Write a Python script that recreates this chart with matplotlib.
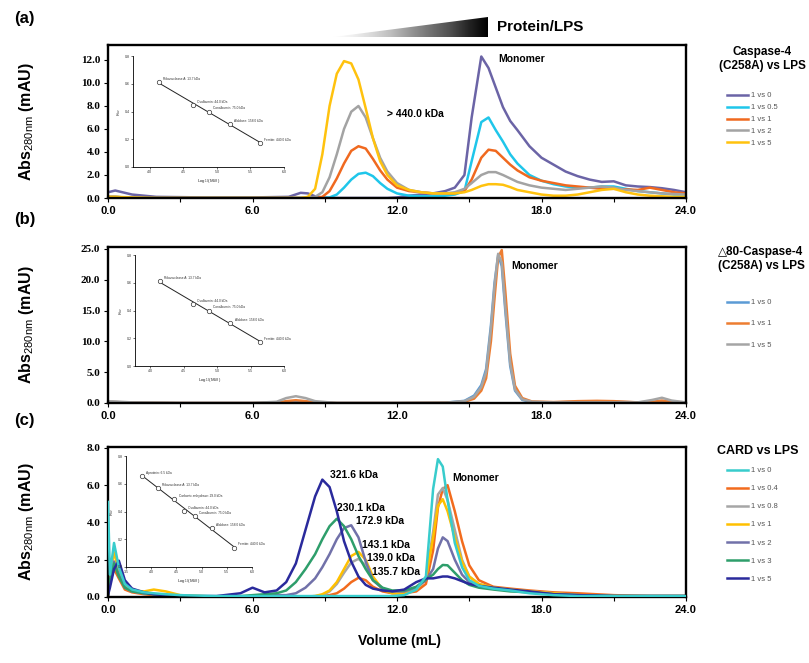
import numpy as np
import matplotlib
matplotlib.use("Agg")
import matplotlib.pyplot as plt
from matplotlib.patches import Polygon

plt.rcParams["font.family"] = ["Liberation Sans", "DejaVu Sans"]
plt.rcParams["mathtext.fontset"] = "custom"
plt.rcParams["mathtext.rm"] = "Liberation Sans"
plt.rcParams["mathtext.default"] = "rm"

# ---- panel (a): Caspase-4 (C258A) vs LPS ----
vol_a = [0, 0.3, 1, 2, 4, 6, 7.5,
         8.0, 8.3, 8.6, 8.9, 9.2, 9.5, 9.8, 10.1, 10.4, 10.7, 11.0, 11.3, 11.6,
         12.0, 12.5, 13.0, 13.5, 14.0,
         14.4, 14.8, 15.1, 15.5, 15.8, 16.1, 16.4, 16.7, 17.0,
         17.5, 18.0, 18.5, 19.0, 19.5, 20.0, 20.5, 21.0, 21.5, 22.0, 22.5, 23.0, 23.5, 24.0]
a_1vs0 = [0.5, 0.65, 0.3, 0.1, 0.05, 0.05, 0.1,
          0.45, 0.4, 0.15, 0.05, 0, 0, 0, 0, 0, 0, 0, 0, 0,
          0.05, 0.2, 0.3, 0.4, 0.6,
          0.9, 2.0, 7.0, 12.3, 11.3, 9.6, 7.9, 6.7, 5.9,
          4.5, 3.5, 2.9, 2.3, 1.9, 1.6, 1.4, 1.45, 1.1, 1.0, 0.95, 0.85, 0.7, 0.5]
a_1vs05 = [0.1, 0.1, 0, 0, 0, 0, 0,
           0, 0, 0, 0, 0.05, 0.3, 0.9, 1.6, 2.1, 2.2, 1.9, 1.3, 0.8,
           0.4, 0.2, 0.15, 0.15, 0.2,
           0.3, 0.6, 3.2, 6.6, 7.0, 5.9, 4.9, 3.8, 3.0,
           2.0, 1.5, 1.2, 1.0, 0.9, 0.9, 1.0, 1.0, 0.8, 0.6, 0.5, 0.4, 0.3, 0.3]
a_1vs1 = [0.1, 0.1, 0, 0, 0, 0, 0,
          0, 0, 0, 0.1, 0.6, 1.7, 3.0, 4.1, 4.5, 4.3, 3.4, 2.4, 1.6,
          0.9, 0.6, 0.5, 0.4, 0.4,
          0.4, 0.6, 1.6, 3.5, 4.2, 4.1, 3.5, 2.9, 2.4,
          1.8, 1.5, 1.3, 1.1, 1.0, 0.9, 0.8, 0.8, 0.75, 0.7, 0.9, 0.7, 0.5, 0.4]
a_1vs2 = [0.1, 0.1, 0, 0, 0, 0, 0,
          0, 0, 0.1, 0.5, 1.8, 3.8, 6.0, 7.5, 8.0, 7.0, 5.2, 3.5, 2.3,
          1.3, 0.7, 0.5, 0.4, 0.4,
          0.5, 0.8, 1.3, 2.0, 2.25, 2.25, 2.0, 1.7, 1.4,
          1.1, 0.9, 0.8, 0.7, 0.8, 0.9, 1.0, 0.9, 0.7, 0.6, 0.5, 0.4, 0.35, 0.3]
a_1vs5 = [0.1, 0.1, 0.05, 0, 0, 0, 0,
          0, 0.1, 0.8, 3.8, 8.0, 10.8, 11.9, 11.7, 10.3, 7.8, 5.2, 3.2, 2.0,
          1.1, 0.7, 0.5, 0.4, 0.4,
          0.4, 0.5, 0.7, 1.05, 1.2, 1.2, 1.15, 0.95, 0.7,
          0.5, 0.3, 0.2, 0.2, 0.3, 0.5, 0.7, 0.8, 0.5, 0.3, 0.2, 0.15, 0.1, 0.1]
labels_a = ["1 vs 0", "1 vs 0.5", "1 vs 1", "1 vs 2", "1 vs 5"]
colors_a = ["#6B64A6", "#1FC6EA", "#F0691F", "#A3A3A3", "#FFC20E"]

# ---- panel (b): delta80-Caspase-4 (C258A) vs LPS ----
vol_b = [0, 1, 3, 6, 7.0, 7.4, 7.8, 8.2, 8.6, 9.5, 12, 14,
         14.8, 15.2, 15.5, 15.7, 15.9, 16.05, 16.2, 16.35, 16.5, 16.7, 16.9, 17.2, 17.6,
         18.5, 19.5, 20.3, 21, 22, 22.6, 23.0, 23.4, 24]
b_1vs0 = [0.2, 0.05, 0, 0, 0.05, 0.2, 0.3, 0.2, 0.05, 0, 0, 0.05,
          0.35, 1.2, 2.9, 5.5, 12.6, 19.5, 24.0, 22.2, 14.8, 6.0, 2.0, 0.5, 0.15,
          0.1, 0.2, 0.25, 0.2, 0.1, 0.1, 0.2, 0.1, 0.1]
b_1vs1 = [0.2, 0.05, 0, 0, 0.05, 0.3, 0.45, 0.3, 0.1, 0, 0, 0.05,
          0.2, 0.7, 2.0, 4.0, 10.0, 17.0, 23.6, 24.8, 18.0, 8.0, 2.8, 0.8, 0.25,
          0.15, 0.3, 0.35, 0.3, 0.1, 0.2, 0.4, 0.2, 0.1]
b_1vs5 = [0.3, 0.1, 0, 0, 0.2, 0.8, 1.1, 0.8, 0.3, 0, 0, 0.05,
          0.3, 1.0, 2.6, 5.0, 12.0, 19.0, 24.2, 22.8, 15.5, 6.5, 2.2, 0.6, 0.2,
          0.1, 0.1, 0.1, 0.1, 0.1, 0.5, 0.85, 0.4, 0.1]
labels_b = ["1 vs 0", "1 vs 1", "1 vs 5"]
colors_b = ["#5B9BD5", "#ED7D31", "#A5A5A5"]

# ---- panel (c): CARD vs LPS ----
vol_c = [0, 0.08, 0.25, 0.45, 0.7, 1.0, 1.5, 1.9, 2.4, 3.0,
         4.5, 5.5, 6.0, 6.5, 7.0, 7.4, 7.8,
         8.2, 8.6, 8.9, 9.2, 9.5, 9.8, 10.1, 10.4, 10.7, 11.0, 11.4, 11.8,
         12.3, 12.8, 13.2, 13.5, 13.7, 13.9, 14.1, 14.4, 14.7, 15.0, 15.4,
         16.0, 16.7, 17.5, 18.5, 19.5, 21, 22.5, 24]
c_1vs0 = [5.1, 1.2, 2.9, 1.6, 0.7, 0.4, 0.25, 0.2, 0.15, 0.1,
          0.05, 0.05, 0.05, 0.05, 0.05, 0.05, 0.05,
          0.05, 0.05, 0.05, 0.05, 0.05, 0.05, 0.05, 0.05, 0.05, 0.05, 0.05, 0.05,
          0.1, 0.4, 1.1, 5.8, 7.4, 7.0, 5.2, 2.9, 1.6, 0.9, 0.6,
          0.45, 0.35, 0.2, 0.1, 0.05, 0.05, 0.05, 0.05]
c_1vs04 = [0.1, 0.8, 1.5, 1.0, 0.4, 0.25, 0.15, 0.1, 0.1, 0.05,
           0, 0, 0, 0, 0, 0, 0,
           0, 0, 0.05, 0.1, 0.2, 0.45, 0.8, 1.03, 0.9, 0.55, 0.3, 0.2,
           0.2, 0.3, 0.7, 2.5, 4.8, 5.8, 6.0, 4.6, 3.0, 1.7, 0.9,
           0.55, 0.45, 0.35, 0.25, 0.2, 0.1, 0.05, 0.05]
c_1vs08 = [0.1, 1.0, 1.9, 1.2, 0.5, 0.3, 0.2, 0.15, 0.1, 0.05,
           0, 0, 0, 0, 0, 0, 0,
           0.02, 0.05, 0.1, 0.3, 0.7, 1.3, 1.85, 2.05, 1.7, 1.0, 0.45, 0.25,
           0.25, 0.4, 1.0, 3.5, 5.5, 5.85, 5.2, 3.6, 2.0, 1.1, 0.7,
           0.5, 0.4, 0.3, 0.2, 0.1, 0.05, 0.05, 0.05]
c_1vs1 = [0.1, 1.2, 2.4, 1.4, 0.6, 0.35, 0.3, 0.4, 0.3, 0.1,
          0.02, 0.02, 0.02, 0.02, 0.02, 0.02, 0.02,
          0.02, 0.05, 0.15, 0.35, 0.8, 1.5, 2.2, 2.42, 2.0, 1.1, 0.4, 0.2,
          0.2, 0.4, 1.0, 3.2, 4.9, 5.25, 4.6, 3.2, 1.9, 1.1, 0.7,
          0.5, 0.4, 0.3, 0.2, 0.1, 0.05, 0.05, 0.05]
c_1vs2 = [0.1, 0.9, 1.9, 1.2, 0.5, 0.3, 0.2, 0.15, 0.1, 0.05,
          0, 0.02, 0.05, 0.05, 0.1, 0.1, 0.2,
          0.5, 1.0, 1.6, 2.3, 3.1, 3.7, 3.85, 3.2, 1.9, 0.9, 0.45, 0.3,
          0.3, 0.5, 0.9, 1.5, 2.6, 3.2, 3.0, 2.0, 1.2, 0.8, 0.6,
          0.45, 0.35, 0.25, 0.15, 0.1, 0.05, 0.05, 0.05]
c_1vs3 = [0.1, 0.9, 1.8, 1.1, 0.5, 0.3, 0.2, 0.15, 0.1, 0.05,
          0.02, 0.05, 0.1, 0.15, 0.2, 0.35, 0.8,
          1.5, 2.3, 3.1, 3.8, 4.2, 3.8, 3.1, 2.2, 1.5, 0.9, 0.5, 0.35,
          0.35, 0.55, 0.95, 1.2, 1.5, 1.72, 1.7, 1.3, 0.9, 0.65, 0.5,
          0.4, 0.3, 0.25, 0.15, 0.1, 0.05, 0.05, 0.05]
c_1vs5 = [0.1, 0.5, 1.5, 1.95, 0.9, 0.45, 0.25, 0.15, 0.1, 0.05,
          0.05, 0.2, 0.5, 0.25, 0.35, 0.8, 1.8,
          3.6, 5.4, 6.3, 5.9, 4.6, 3.0, 1.9, 1.1, 0.65, 0.45, 0.35, 0.3,
          0.4, 0.8, 1.0, 1.0, 1.05, 1.1, 1.1, 1.0, 0.85, 0.7, 0.6,
          0.5, 0.4, 0.3, 0.15, 0.1, 0.05, 0.05, 0.05]
labels_c = ["1 vs 0", "1 vs 0.4", "1 vs 0.8", "1 vs 1", "1 vs 2", "1 vs 3", "1 vs 5"]
colors_c = ["#38CCCC", "#F26B1D", "#A6A6A6", "#FFC000", "#7171A9", "#2E9E6B", "#2A2A9C"]

# ---- calibration insets ----
std_names = ["Ribonuclease A: 13.7 kDa", "Ovalbumin: 44.0 kDa", "Conalbumin: 75.0 kDa",
             "Aldolase: 158.0 kDa", "Ferritin: 440.0 kDa"]
std_logmw = [4.137, 4.643, 4.875, 5.199, 5.643]
std_kav = [0.61, 0.447, 0.40, 0.31, 0.175]
std_names_c = ["Aprotinin: 6.5 kDa", "Ribonuclease A: 13.7 kDa", "Carbonic anhydrase: 29.0 kDa",
               "Ovalbumin: 44.0 kDa", "Conalbumin: 75.0 kDa", "Aldolase: 158.0 kDa",
               "Ferritin: 440.0 kDa"]
std_logmw_c = [3.813, 4.137, 4.462, 4.643, 4.875, 5.199, 5.643]
std_kav_c = [0.656, 0.572, 0.493, 0.404, 0.365, 0.281, 0.14]

peak_labels_c = ["321.6 kDa", "230.1 kDa", "172.9 kDa", "143.1 kDa", "139.0 kDa", "135.7 kDa"]

W, H = 809, 663
fig = plt.figure(figsize=(W / 100, H / 100), dpi=100)


def frac(x0, y0, x1, y1):
    return [x0 / W, 1 - y1 / H, (x1 - x0) / W, (y1 - y0) / H]


def main_axes(rect, ymax, yticks):
    ax = fig.add_axes(rect)
    ax.set_xlim(0, 24)
    ax.set_ylim(0, ymax)
    ax.set_xticks([0, 6, 12, 18, 24])
    ax.set_xticklabels(["0.0", "6.0", "12.0", "18.0", "24.0"], fontsize=8, fontweight="bold")
    ax.set_xticks([3, 9, 15, 21], minor=True)
    ax.set_yticks(yticks)
    ax.set_yticklabels(["%.1f" % v for v in yticks], fontsize=8, fontweight="bold",
                       family="Liberation Serif")
    ax.tick_params(which="both", direction="out", length=3, width=0.8, pad=2.5)
    for s in ax.spines.values():
        s.set_linewidth(1.7)
    ax.set_ylabel("Abs$_{280nm}$ (mAU)", fontsize=11.5, fontweight="bold")
    ax.yaxis.set_label_coords(-0.125, 0.5)
    return ax


def inset(rect, logmw, kav, names, xlim, xticks):
    ins = fig.add_axes(rect, facecolor="none")
    fit = np.polyfit(logmw, kav, 1)
    xs = np.array([min(logmw), max(logmw)])
    ins.plot(xs, np.polyval(fit, xs), color="#222222", lw=0.7)
    ins.plot(logmw, kav, "o", mfc="white", mec="#333333", ms=3.2, mew=0.5)
    for x, y, n in zip(logmw, kav, names):
        ins.annotate(n, (x, y), xytext=(3, 1.5), textcoords="offset points",
                     fontsize=2.3, color="#333333")
    ins.set_xlim(*xlim)
    ins.set_ylim(0, 0.8)
    ins.set_xticks(xticks)
    ins.set_xticklabels(["%.1f" % v for v in xticks])
    ins.set_yticks([0, 0.2, 0.4, 0.6, 0.8])
    ins.set_yticklabels(["0.0", "0.2", "0.4", "0.6", "0.8"])
    ins.tick_params(labelsize=2.6, length=1.5, width=0.5, pad=1, colors="#333333")
    for s in ["top", "right"]:
        ins.spines[s].set_visible(False)
    for s in ["left", "bottom"]:
        ins.spines[s].set_linewidth(0.6)
    ins.set_xlabel("Log$_{10}$(MW)", fontsize=3.2, labelpad=1.5, color="#333333")
    ins.set_ylabel("K$_{av}$", fontsize=3.2, labelpad=1, color="#333333")
    return ins


def legend(ax, lines, labels, top_left, spacing):
    ax.legend(lines, labels, loc="upper left", bbox_to_anchor=top_left,
              bbox_transform=fig.transFigure, frameon=False, fontsize=5.5,
              handlelength=2.8, handletextpad=0.3, labelspacing=spacing,
              borderaxespad=0, borderpad=0, labelcolor="#555555")


# panel (a)
ax_a = main_axes(frac(108, 45, 686, 198), 13.3, [0, 2, 4, 6, 8, 10, 12])
series_a = [a_1vs0, a_1vs05, a_1vs1, a_1vs2, a_1vs5]
lines_a = [ax_a.plot(vol_a, s, color=c, lw=1.8)[0] for s, c in zip(series_a, colors_a)]
ax_a.text(11.6, 7.0, "> 440.0 kDa", fontsize=7.5, fontweight="bold")
ax_a.text(16.2, 11.8, "Monomer", fontsize=7.5, fontweight="bold")
legend(ax_a, lines_a, labels_a, (727 / W, 1 - 92 / H), 0.6)
inset(frac(133, 56, 284, 167), std_logmw, std_kav, std_names, (3.75, 6.0),
      [4.0, 4.5, 5.0, 5.5, 6.0])

# panel (b)
ax_b = main_axes(frac(108, 247, 686, 403), 25.3, [0, 5, 10, 15, 20, 25])
series_b = [b_1vs0, b_1vs1, b_1vs5]
lines_b = [ax_b.plot(vol_b, s, color=c, lw=1.8)[0] for s, c in zip(series_b, colors_b)]
ax_b.text(16.75, 21.8, "Monomer", fontsize=7.5, fontweight="bold")
legend(ax_b, lines_b, labels_b, (727 / W, 1 - 299 / H), 1.8)
inset(frac(135, 255, 284, 366), std_logmw, std_kav, std_names, (3.77, 6.0),
      [4.0, 4.5, 5.0, 5.5, 6.0])

# panel (c)
ax_c = main_axes(frac(108, 447, 686, 597), 8.05, [0, 2, 4, 6, 8])
series_c = [c_1vs0, c_1vs04, c_1vs08, c_1vs1, c_1vs2, c_1vs3, c_1vs5]
lines_c = [ax_c.plot(vol_c, s, color=c, lw=1.8)[0] for s, c in zip(series_c, colors_c)]
lines_c[0].set_zorder(3)
peak_pos_c = [(9.2, 6.3), (9.5, 4.5), (10.3, 3.8), (10.55, 2.5), (10.75, 1.85), (10.95, 1.05)]
for (px, py), t in zip(peak_pos_c, peak_labels_c):
    ax_c.text(px, py, t, fontsize=7.5, fontweight="bold", va="bottom")
ax_c.text(14.3, 6.2, "Monomer", fontsize=7.5, fontweight="bold")
legend(ax_c, lines_c, labels_c, (727 / W, 1 - 467 / H), 1.4)
inset(frac(126, 456, 252, 567), std_logmw_c, std_kav_c, std_names_c, (3.5, 6.0),
      [3.5, 4.0, 4.5, 5.0, 5.5, 6.0])

# series titles
fig.text(762 / W, 1 - 52 / H, "Caspase-4", ha="center", va="center", fontsize=8.5, fontweight="bold")
fig.text(762 / W, 1 - 66 / H, "(C258A) vs LPS", ha="center", va="center", fontsize=8.5, fontweight="bold")
fig.text(761 / W, 1 - 252 / H, "\u25b380-Caspase-4", ha="center", va="center", fontsize=8.5,
         fontweight="bold", family=["Liberation Sans", "DejaVu Sans"])
fig.text(761 / W, 1 - 266 / H, "(C258A) vs LPS", ha="center", va="center", fontsize=8.5, fontweight="bold")
fig.text(758 / W, 1 - 451 / H, "CARD vs LPS", ha="center", va="center", fontsize=9, fontweight="bold")

# panel letters and axis title
for letter, y in [("(a)", 18), ("(b)", 220), ("(c)", 420)]:
    fig.text(14 / W, 1 - y / H, letter, ha="left", va="center", fontsize=12, fontweight="bold")
fig.text(400 / W, 1 - 641 / H, "Volume (mL)", ha="center", va="center", fontsize=10, fontweight="bold")

# protein/LPS gradient wedge
wedge = fig.add_axes(frac(333, 17, 488, 37))
wedge.set_axis_off()
im = wedge.imshow(np.linspace(0, 1, 256)[None, :], cmap="Greys", aspect="auto",
                  extent=[0, 1, 0, 1], vmin=0, vmax=1)
tri = Polygon([(0, 0), (1, 0), (1, 1)], closed=True, transform=wedge.transData)
im.set_clip_path(tri)
wedge.set_xlim(0, 1)
wedge.set_ylim(0, 1)
fig.text(497 / W, 1 - 27 / H, "Protein/LPS", ha="left", va="center", fontsize=11, fontweight="bold")

fig.savefig("out.png", dpi=100)
